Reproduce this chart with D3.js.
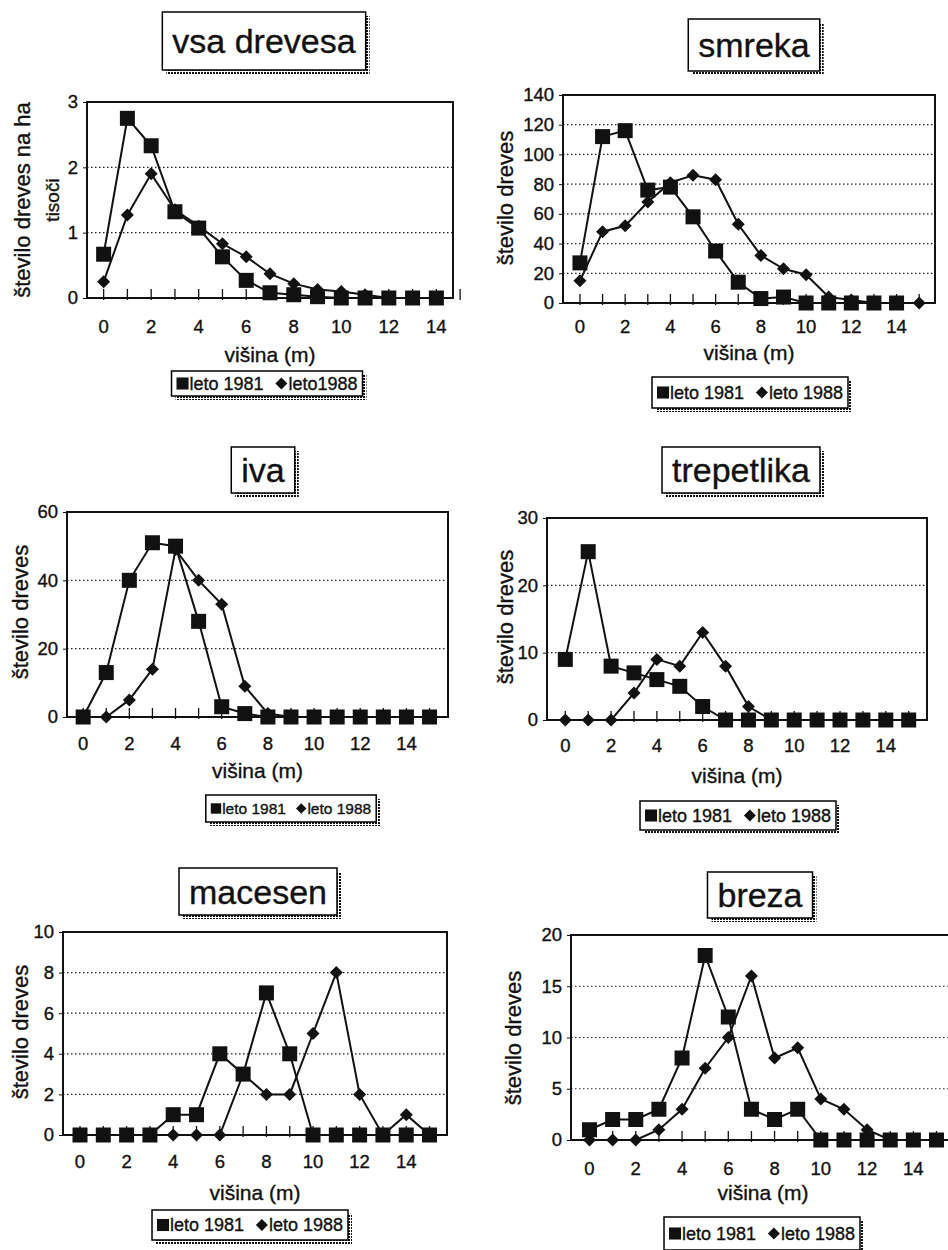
<!DOCTYPE html>
<html><head><meta charset="utf-8">
<script src="https://cdn.jsdelivr.net/npm/d3@7"></script>
<style>body{margin:0;background:#fff}svg{display:block;font-family:"Liberation Sans",Arial,sans-serif}
text{stroke:#111;stroke-width:0.35px}</style>
</head><body><svg id="c" width="948" height="1250"></svg>
<script>
// ---- data ----
const heights = [0,1,2,3,4,5,6,7,8,9,10,11,12,13,14,15];
const xTickLabels = [0,2,4,6,8,10,12,14];
const seriesNames = ["leto 1981","leto 1988"];

const vsa1981 = [0.67,2.75,2.33,1.32,1.07,0.63,0.27,0.08,0.05,0.02,0,0,0,0,0];
const vsa1988 = [0.25,1.27,1.9,1.35,1.1,0.83,0.63,0.37,0.22,0.13,0.1,0.05,0,0,0];
const smreka1981 = [27,112,116,76,78,58,35,14,3,4,0,0,0,0,0];
const smreka1988 = [15,48,52,68,81,86,83,53,32,23,19,4,2,0,0,0];
const iva1981 = [0,13,40,51,50,28,3,1,0,0,0,0,0,0,0,0];
const iva1988 = [0,0,5,14,49,40,33,9,1,0,0,0,0,0,0,0];
const trep1981 = [9,25,8,7,6,5,2,0,0,0,0,0,0,0,0,0];
const trep1988 = [0,0,0,4,9,8,13,8,2,0,0,0,0,0,0,0];
const mac1981 = [0,0,0,0,1,1,4,3,7,4,0,0,0,0,0,0];
const mac1988 = [0,0,0,0,0,0,0,3,2,2,5,8,2,0,1,0];
const breza1981 = [1,2,2,3,8,18,12,3,2,3,0,0,0,0,0,0];
const breza1988 = [0,0,0,1,3,7,10,16,8,9,4,3,1,0,0,0];

const vsaTicks = [0,1,2,3];
const smrekaTicks = [0,20,40,60,80,100,120,140];
const ivaTicks = [0,20,40,60];
const trepTicks = [0,10,20,30];
const macTicks = [0,2,4,6,8,10];
const brezaTicks = [0,5,10,15,20];

const panels = [
  {title:"vsa drevesa", s1:vsa1981, s2:vsa1988, yTicks:vsaTicks, ylab:"število dreves na ha", ylab2:"tisoči", leg2:"leto1988",
   box:[87,102,453,298], xdom:[-0.7,14.7], ylabX:22, ylab2X:52, ylabY:200,
   tcx:264, ttop:12, th:58, xTickY:333, xTitleY:362, lcx:267, ltop:371, lh:25, lfs:18},
  {title:"smreka", s1:smreka1981, s2:smreka1988, yTicks:smrekaTicks, ylab:"število dreves",
   box:[563,95,935,303], xdom:[-0.75,15.7], ylabX:505, ylabY:198,
   tcx:754, ttop:19, th:52, xTickY:333, xTitleY:360, lcx:750, ltop:377, lh:31, lfs:18},
  {title:"iva", s1:iva1981, s2:iva1988, yTicks:ivaTicks, ylab:"število dreves",
   box:[67,512,448,717], xdom:[-0.7,15.8], ylabX:20, ylabY:612,
   tcx:263, ttop:447, th:46, xTickY:750, xTitleY:778, lcx:291, ltop:795, lh:27, lfs:15.5},
  {title:"trepetlika", s1:trep1981, s2:trep1988, yTicks:trepTicks, ylab:"število dreves",
   box:[547,518,927,720], xdom:[-0.8,15.8], ylabX:505, ylabY:617,
   tcx:741, ttop:447, th:46, xTickY:752, xTitleY:783, lcx:738, ltop:801, lh:29, lfs:18},
  {title:"macesen", s1:mac1981, s2:mac1988, yTicks:macTicks, ylab:"število dreves",
   box:[63,932,447,1135], xdom:[-0.73,15.75], ylabX:20, ylabY:1032,
   tcx:258, ttop:868, th:47, xTickY:1168, xTitleY:1200, lcx:250, ltop:1210, lh:30, lfs:18},
  {title:"breza", s1:breza1981, s2:breza1988, yTicks:brezaTicks, ylab:"število dreves",
   box:[571,935,955,1140], xdom:[-0.8,15.8], ylabX:513, ylabY:1038,
   tcx:760, ttop:872, th:46, xTickY:1175, xTitleY:1200, lcx:762, ltop:1217, lh:33, lfs:18}
];

const svg = d3.select("#c");
const defs = svg.append("defs");
const pat = defs.append("pattern").attr("id","hatch").attr("width",3).attr("height",3).attr("patternUnits","userSpaceOnUse");
pat.append("rect").attr("width",3).attr("height",3).attr("fill","#fff");
pat.append("rect").attr("width",2).attr("height",2).attr("fill","#111");

const sqSize = 15, diaSize = 13;

function shadowBox(g, x, y, w, h){
  g.append("rect").attr("x",x+4).attr("y",y+4).attr("width",w).attr("height",h).attr("fill","url(#hatch)");
  g.append("rect").attr("x",x).attr("y",y).attr("width",w).attr("height",h).attr("fill","#fff").attr("stroke","#000").attr("stroke-width",1.5);
}
function square(g,cx,cy,s){ g.append("rect").attr("x",cx-s/2).attr("y",cy-s/2).attr("width",s).attr("height",s).attr("fill","#111"); }
function diamond(g,cx,cy,s){ const r=s/2; g.append("path").attr("d",`M${cx},${cy-r}L${cx+r},${cy}L${cx},${cy+r}L${cx-r},${cy}Z`).attr("fill","#111"); }

panels.forEach(p => {
  const g = svg.append("g");
  const [x0,y0,x1,y1] = p.box;
  const x = d3.scaleLinear().domain(p.xdom).range([x0,x1]);
  const ymax = p.yTicks[p.yTicks.length-1];
  const y = d3.scaleLinear().domain([0,ymax]).range([y1,y0]);

  // grid lines
  g.selectAll(".grid").data(p.yTicks.filter(t=>t>0 && t<ymax)).enter().append("line")
    .attr("x1",x0).attr("x2",x1).attr("y1",d=>y(d)).attr("y2",d=>y(d))
    .attr("stroke","#222").attr("stroke-width",1.2).attr("stroke-dasharray","1.5,2.5");

  // y axis
  const ya = d3.axisLeft(y).tickValues(p.yTicks).tickSize(4).tickPadding(5).tickFormat(d3.format("d"));
  const yg = g.append("g").attr("transform",`translate(${x0},0)`).call(ya);
  yg.select(".domain").remove();
  yg.selectAll("text").attr("font-size",18.5).attr("fill","#111");
  yg.selectAll("line").attr("stroke","#111");

  // x axis: minor ticks at every integer, labels at even
  const xa = d3.axisBottom(x).tickValues(heights).tickSize(0).tickFormat("");
  const xg = g.append("g").attr("transform",`translate(0,${y1})`).call(xa);
  xg.select(".domain").remove();
  g.selectAll(".xt").data(heights).enter().append("line")
    .attr("x1",d=>x(d)).attr("x2",d=>x(d)).attr("y1",y1-9).attr("y2",y1+2)
    .attr("stroke","#111").attr("stroke-width",1.3);
  g.selectAll(".xl").data(xTickLabels).enter().append("text")
    .attr("x",d=>x(d)).attr("y",p.xTickY).attr("text-anchor","middle").attr("font-size",18.5).attr("fill","#111").text(d=>d);

  // frame
  g.append("rect").attr("x",x0).attr("y",y0).attr("width",x1-x0).attr("height",y1-y0)
    .attr("fill","none").attr("stroke","#111").attr("stroke-width",2);

  // series
  const line = d3.line().x((d,i)=>x(heights[i])).y(d=>y(d));
  [p.s1,p.s2].forEach(s=>{
    g.append("path").datum(s).attr("d",line).attr("fill","none").attr("stroke","#111").attr("stroke-width",2);
  });
  p.s1.forEach((v,i)=>square(g,x(heights[i]),y(v),sqSize));
  p.s2.forEach((v,i)=>diamond(g,x(heights[i]),y(v),diaSize));

  // y label
  g.append("text").attr("transform",`translate(${p.ylabX+8},${p.ylabY}) rotate(-90)`)
    .attr("text-anchor","middle").attr("font-size",22).attr("fill","#111").text(p.ylab);
  if(p.ylab2){
    g.append("text").attr("transform",`translate(${p.ylab2X+7},${p.ylabY}) rotate(-90)`)
      .attr("text-anchor","middle").attr("font-size",19).attr("fill","#111").text(p.ylab2);
  }
  // x title
  g.append("text").attr("x",(x0+Math.min(x1,955))/2).attr("y",p.xTitleY).attr("text-anchor","middle")
    .attr("font-size",21).attr("fill","#111").text("višina (m)");

  // title box
  const tg = g.append("g");
  const tt = tg.append("text").attr("x",p.tcx).attr("y",p.ttop+p.th/2+12).attr("text-anchor","middle")
    .attr("font-size",34).attr("fill","#111").text(p.title);
  const tw = tt.node().getComputedTextLength();
  const bg = tg.insert("g","text");
  shadowBox(bg, p.tcx-tw/2-10, p.ttop, tw+20, p.th);

  // legend
  const lg = g.append("g");
  const items = lg.append("g");
  const fs = p.lfs, ms = fs*0.67;
  let cx = 0;
  const ly = p.ltop + p.lh/2;
  square(items, cx+ms/2, ly, ms); cx += ms+1;
  const t1 = items.append("text").attr("x",cx).attr("y",ly+fs*0.36).attr("font-size",fs).attr("fill","#111").text(seriesNames[0]);
  cx += t1.node().getComputedTextLength() + fs*0.65;
  diamond(items, cx+ms/2, ly, ms); cx += ms+1;
  const t2 = items.append("text").attr("x",cx).attr("y",ly+fs*0.36).attr("font-size",fs).attr("fill","#111").text(p.leg2||seriesNames[1]);
  cx += t2.node().getComputedTextLength();
  const lw = cx + 10;
  const lx = p.lcx - lw/2;
  items.attr("transform",`translate(${lx+5},0)`);
  const lb = lg.insert("g",":first-child");
  shadowBox(lb, lx, p.ltop, lw, p.lh);
});
</script></body></html>
